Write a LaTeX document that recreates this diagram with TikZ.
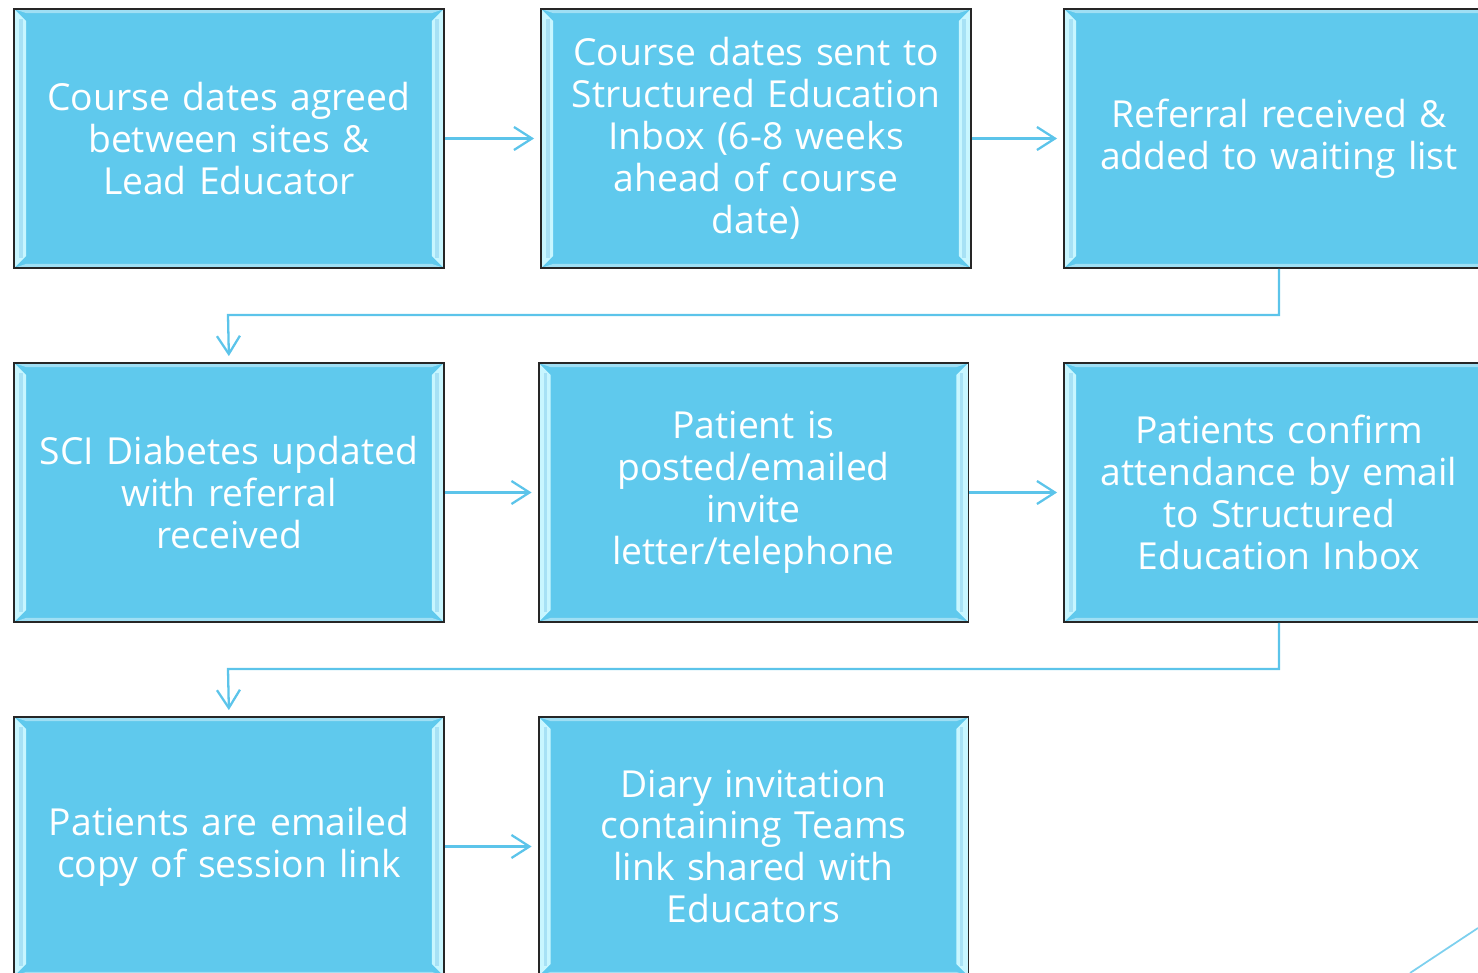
\documentclass[tikz,border=0pt]{standalone}
\usepackage{fontspec}
\setmainfont{Open Sans}
\usetikzlibrary{arrows.meta}

\definecolor{boxblue}{HTML}{5FC9ED}
\definecolor{edgecyan}{HTML}{C8F6FF}
\definecolor{linkblue}{HTML}{5CC4EA}

\tikzset{
  stepbox/.style={draw=black!85, line width=1.1pt, fill=boxblue,
    minimum width=8.6cm, minimum height=5.18cm, text width=8.5cm,
    align=center, text=white, inner sep=0pt,
    font=\fontsize{21.2pt}{23.9pt}\selectfont,
    path picture={
      % seitliche Facetten
      \fill[edgecyan] (path picture bounding box.north west)
        -- ++(0.24cm,-0.24cm) -- ([shift={(0.24cm,0.24cm)}]path picture bounding box.south west)
        -- (path picture bounding box.south west) -- cycle;
      \fill[boxblue!55!white] ([shift={(0.1cm,-0.2cm)}]path picture bounding box.north west)
        rectangle ([shift={(0.17cm,0.2cm)}]path picture bounding box.south west);
      \fill[edgecyan] (path picture bounding box.north east)
        -- ++(-0.24cm,-0.24cm) -- ([shift={(-0.24cm,0.24cm)}]path picture bounding box.south east)
        -- (path picture bounding box.south east) -- cycle;
      \fill[boxblue!55!white] ([shift={(-0.1cm,-0.2cm)}]path picture bounding box.north east)
        rectangle ([shift={(-0.17cm,0.2cm)}]path picture bounding box.south east);
      \fill[boxblue!60!white] (path picture bounding box.north west)
        -- ++(0.24cm,-0.08cm) -- ([shift={(-0.24cm,-0.08cm)}]path picture bounding box.north east)
        -- (path picture bounding box.north east) -- cycle;
      \fill[boxblue!60!white] (path picture bounding box.south west)
        -- ++(0.24cm,0.08cm) -- ([shift={(-0.24cm,0.08cm)}]path picture bounding box.south east)
        -- (path picture bounding box.south east) -- cycle;
    }},
  link/.style={draw=linkblue, line width=1.3pt,
    -{Straight Barb[length=0.36cm, width=0.46cm, line width=1.3pt]}, shorten >=0.12cm}
}

\begin{document}
\begin{tikzpicture}[x=0.02cm, y=-0.02cm]
    \useasboundingbox (0,0) rectangle (1478,973);
    \clip (0,0) rectangle (1478,973);

    % Reihe 1
    \node[stepbox] (agree) at (229,138.5) {Course dates agreed\\between sites \&\\Lead Educator};
    \node[stepbox] (inbox) at (756,138.5) {Course dates sent to\\Structured Education\\Inbox (6-8 weeks\\ahead of course\\date)};
    \node[stepbox] (referral) at (1279,138.5) {Referral received \&\\added to waiting list};

    % Reihe 2
    \node[stepbox] (sci) at (229,492.5) {SCI Diabetes updated\\with referral\\received};
    \node[stepbox] (invite) at (753.5,492.5) {Patient is\\posted/emailed\\invite\\letter/telephone};
    \node[stepbox] (confirm) at (1279,492.5) {Patients confirm\\attendance by email\\to Structured\\Education Inbox};

    % Reihe 3
    \node[stepbox] (link) at (229,846.5) {Patients are emailed\\copy of session link};
    \node[stepbox] (diary) at (753.5,846.5) {Diary invitation\\containing Teams\\link shared with\\Educators};

    % Verbindungen
    \draw[link] (agree) -- (inbox);
    \draw[link] (inbox) -- (referral);
    \draw[link] (referral.south) |- (228,315) -- (sci.north);
    \draw[link] (sci) -- (invite);
    \draw[link] (invite) -- (confirm);
    \draw[link] (confirm.south) |- (228,669) -- (link.north);
    \draw[link] (link) -- (diary);

    % Linie unten rechts
    \draw[linkblue!80, line width=1pt] (1478,928) -- (1410,973);
\end{tikzpicture}
\end{document}
